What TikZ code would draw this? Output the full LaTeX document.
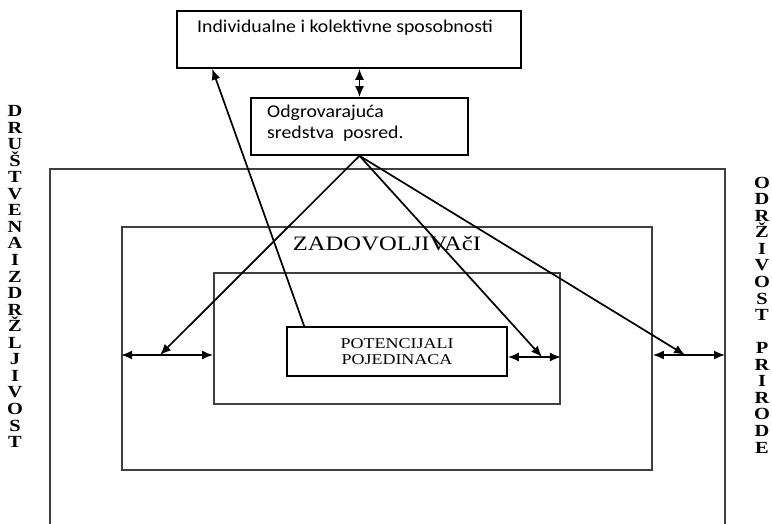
\documentclass[tikz,border=0pt]{standalone}
\usepackage{fontspec}
\setmainfont{Liberation Serif}
\newfontfamily\kalibri[FakeStretch=1.1]{Carlito}
\newfontfamily\siroki[FakeStretch=1.2]{Liberation Serif}
\usetikzlibrary{positioning,calc,arrows.meta}

\tikzset{
    kutija/.style={draw, line width=1.6bp, inner sep=0pt},
    rama/.style={draw=black!75, line width=1.8bp},
    dvostruka/.style={{Latex[length=11bp,width=9bp]}-{Latex[length=11bp,width=9bp]}, line width=1.7bp},
    strelica/.style={-{Latex[length=11bp,width=9bp]}, line width=1.7bp},
    slova/.style={align=center, inner sep=0pt, font=\siroki\bfseries\fontsize{17bp}{16.55bp}\selectfont}
}

\begin{document}
\begin{tikzpicture}[x=1bp, y=-1bp]
        \useasboundingbox (0,0) rectangle (772,524);

        % Top boxes
        \node [kutija, minimum width=344bp, minimum height=57bp] (sposobnosti) at (349,39.5) {};
        \node [anchor=west, inner sep=0pt, font=\kalibri\fontsize{18bp}{20bp}\selectfont] (sposobnostiTxt) at (197,28) {Individualne i kolektivne sposobnosti};
        \node [kutija, minimum width=217bp, minimum height=57bp] (sredstva) at (359.5,126.5) {};
        \node [anchor=north west, align=left, inner sep=0pt, font=\kalibri\fontsize{18bp}{20.5bp}\selectfont] (sredstvaTxt) at (267,105) {Odgrovarajuća\\sredstva \ posred.};
        \draw [dvostruka] (sredstva.north) -- (sredstva.north |- sposobnosti.south);

        % Outer frame (open at the bottom)
        \coordinate (okvirGL) at (50,169);
        \coordinate (okvirGD) at (725,169);
        \draw [rama] (50,524) -- (okvirGL) -- (okvirGD) -- (725,524);

        % Satisfiers
        \node [rama, minimum width=530bp, minimum height=243bp] (zadovoljivaci) at (387,348.5) {};
        \node [font=\siroki\fontsize{20.5bp}{22bp}\selectfont, inner sep=0pt] (zadovoljivaciTxt) at (387,244) {ZADOVOLJIVAčI};
        \node [rama, minimum width=346bp, minimum height=131bp] (unutra) at (387,338.5) {};

        % Potentials
        \node [kutija, minimum width=220bp, minimum height=49bp, align=center, font=\siroki\fontsize{15bp}{16bp}\selectfont] (potencijali) at (397,351.5) {POTENCIJALI\\POJEDINACA};

        % Side labels
        \node [slova] (drustvena) at (15,276.5) {D\\R\\U\\Š\\T\\V\\E\\N\\A\\I\\Z\\D\\R\\Ž\\L\\J\\I\\V\\O\\S\\T};
        \node [slova] (odrzivost) at (762,315) {O\\D\\R\\Ž\\I\\V\\O\\S\\T\\[16.55bp]P\\R\\I\\R\\O\\D\\E};

        % Horizontal double arrows
        \coordinate (lijevo) at (160,355);
        \coordinate (sredina) at (542,357);
        \coordinate (desno) at (685,355);
        \draw [dvostruka] (lijevo -| zadovoljivaci.west) -- (lijevo -| unutra.west);
        \draw [dvostruka] (sredina -| potencijali.east) -- (sredina -| unutra.east);
        \draw [dvostruka] (desno -| zadovoljivaci.east) -- (desno -| okvirGD);

        % Diagonals
        \draw [strelica] (sredstva.south) -- (lijevo);
        \draw [strelica] (sredstva.south) -- (sredina);
        \draw [strelica] (sredstva.south) -- (desno);
        \draw [strelica] ($(potencijali.north west)+(18,0)$) -- ($(sposobnosti.south west)+(36,0)$);
    \end{tikzpicture}
\end{document}
